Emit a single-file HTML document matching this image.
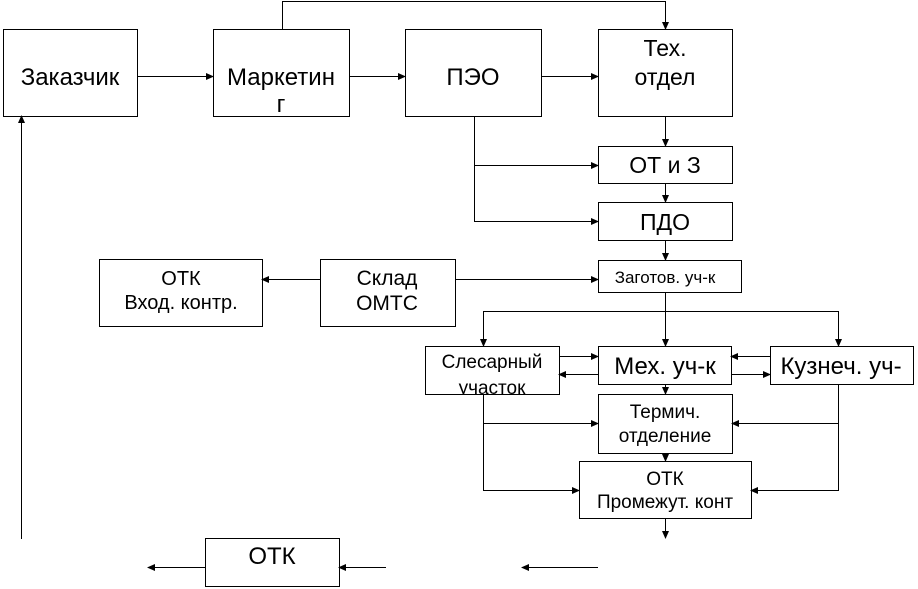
<!DOCTYPE html>
<html><head><meta charset="utf-8"><style>
body{margin:0;background:#fff}
svg{display:block}
text{font-family:"Liberation Sans",sans-serif;fill:#000;text-anchor:middle}
</style></head><body>
<svg width="918" height="589" viewBox="0 0 918 589" xmlns="http://www.w3.org/2000/svg">
<defs><marker id="a" markerWidth="8" markerHeight="8" refX="7" refY="4" orient="auto" markerUnits="userSpaceOnUse"><path d="M0,0.5 L8,4 L0,7.5Z" fill="#000"/></marker>
<clipPath id="c"><rect x="425" y="346" width="135" height="48"/></clipPath></defs>
<g fill="none" stroke="#000" stroke-width="1">
<rect x="3.5" y="29.5" width="134" height="87"/>
<rect x="213.5" y="29.5" width="136" height="87"/>
<rect x="405.5" y="29.5" width="136" height="87"/>
<rect x="598.5" y="29.5" width="134" height="87"/>
<rect x="598.5" y="146.5" width="134" height="37"/>
<rect x="598.5" y="202.5" width="134" height="38"/>
<rect x="598.5" y="260.5" width="143" height="32"/>
<rect x="320.5" y="259.5" width="135" height="67"/>
<rect x="99.5" y="259.5" width="163" height="67"/>
<rect x="425.5" y="346.5" width="134" height="48"/>
<rect x="598.5" y="346.5" width="133" height="38"/>
<rect x="770.5" y="346.5" width="143" height="38"/>
<rect x="598.5" y="394.5" width="134" height="59"/>
<rect x="579.5" y="461.5" width="172" height="57"/>
<rect x="205.5" y="538.5" width="134" height="48"/>
</g>
<g fill="none" stroke="#000" stroke-width="1" marker-end="url(#a)">
<path d="M282.5 29 V1.5 H665.5 V29"/>
<path d="M137 76.5 H213"/>
<path d="M349 76.5 H405"/>
<path d="M541 76.5 H598"/>
<path d="M665.5 116 V146"/>
<path d="M474.5 116 V165.5 H598"/>
<path d="M474.5 165 V221.5 H598"/>
<path d="M665.5 183 V202"/>
<path d="M665.5 240 V260"/>
<path d="M455 279.5 H598"/>
<path d="M320 279.5 H262"/>
<path d="M665.5 292 V346"/>
<path d="M665.5 311.5 H838.5 V346"/>
<path d="M665.5 311.5 H483.5 V346"/>
<path d="M559 356.5 H598"/>
<path d="M598 374.5 H559"/>
<path d="M770 356.5 H731"/>
<path d="M731 374.5 H770"/>
<path d="M665.5 384 V394"/>
<path d="M483.5 394 V423.5 H598"/>
<path d="M483.5 423 V490.5 H579"/>
<path d="M838.5 384 V423.5 H732"/>
<path d="M838.5 423 V490.5 H751"/>
<path d="M665.5 453 V461"/>
<path d="M665.5 518 V538"/>
<path d="M598 567.5 H522"/>
<path d="M386 567.5 H339"/>
<path d="M205 567.5 H148"/>
<path d="M21.5 539 V116"/>
</g>
<text x="70" y="85" font-size="24">Заказчик</text>
<text x="281" y="85" font-size="24">Маркетин</text>
<text x="281" y="112" font-size="24">г</text>
<text x="473" y="85" font-size="24">ПЭО</text>
<text x="665" y="56" font-size="23">Тех.</text>
<text x="665" y="85" font-size="23">отдел</text>
<text x="665" y="173" font-size="23">ОТ и З</text>
<text x="665" y="230" font-size="23">ПДО</text>
<text x="665" y="283" font-size="17">Заготов. уч-к</text>
<text x="387" y="285" font-size="21">Склад</text>
<text x="387" y="310" font-size="21">ОМТС</text>
<text x="181" y="285" font-size="20">ОТК</text>
<text x="181" y="309" font-size="20">Вход. контр.</text>
<g clip-path="url(#c)">
<text x="492" y="368" font-size="19">Слесарный</text>
<text x="492" y="394" font-size="19">участок</text>
</g>
<text x="665" y="374" font-size="24">Мех. уч-к</text>
<text x="841" y="374" font-size="24">Кузнеч. уч-</text>
<text x="665" y="418" font-size="19">Термич.</text>
<text x="665" y="442" font-size="19">отделение</text>
<text x="665" y="485" font-size="19">ОТК</text>
<text x="665" y="508" font-size="19">Промежут. конт</text>
<text x="272" y="564" font-size="24">ОТК</text>
</svg>
</body></html>
